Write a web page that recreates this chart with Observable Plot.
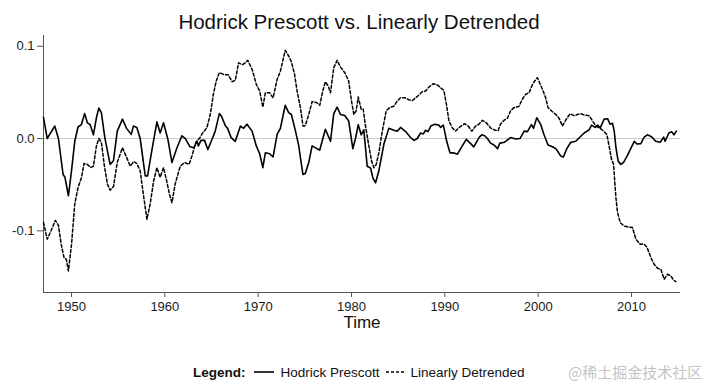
<!DOCTYPE html>
<html>
<head>
<meta charset="utf-8">
<script src="https://cdn.jsdelivr.net/npm/d3@7"></script>
<script src="https://cdn.jsdelivr.net/npm/@observablehq/plot@0.6"></script>
<style>
  body { margin: 0; background: #fff; font-family: "Liberation Sans", Arial, sans-serif; }
  #wrap { position: relative; width: 708px; height: 386px; overflow: hidden; background: #fff; }
  #title { position: absolute; z-index: 2; left: 0; top: 9px; width: 718px; text-align: center; font-size: 20.5px; line-height: 26px; color: #111; }
  #chart { position: absolute; z-index: 1; left: 0; top: 30px; }
  #legend { position: absolute; left: 193px; top: 362px; height: 20px; display: flex; align-items: center; font-size: 13.5px; color: #111; white-space: nowrap; }
  #legend b { margin-right: 8px; }
  #legend svg { margin-right: 7px; }
  #legend span { margin-right: 6px; }
  #wm { position: absolute; left: 568px; top: 362px; line-height: 20px; font-size: 15px; color: #c4c4c4; font-family: "Noto Sans CJK SC", sans-serif; white-space: nowrap; }
</style>
</head>
<body>
<div id="wrap">
  <div id="title">Hodrick Prescott vs. Linearly Detrended</div>
  <div id="chart"></div>
  <div id="legend">
    <b>Legend:</b>
    <svg width="20" height="6"><line x1="0" y1="3" x2="20" y2="3" stroke="#000" stroke-width="1.6"/></svg>
    <span>Hodrick Prescott</span>
    <svg width="18" height="6"><line x1="0" y1="3" x2="18" y2="3" stroke="#000" stroke-width="1.6" stroke-dasharray="3,2"/></svg>
    <span>Linearly Detrended</span>
  </div>
  <div id="wm">@稀土掘金技术社区</div>
</div>
<script>
const xTicks = [1950, 1960, 1970, 1980, 1990, 2000, 2010];
const yTicks = [-0.1, 0.0, 0.1];
const xDomain = [1947, 2015.25];
const yDomain = [-0.1668, 0.1116];

const hpYears = [1947.0,1947.4,1948.2,1948.6,1949.1,1949.3,1949.67,1950.0,1950.35,1950.7,1951.06,1951.4,1951.7,1952.0,1952.35,1952.67,1952.93,1953.2,1953.57,1954.14,1954.5,1954.9,1955.46,1955.9,1956.4,1956.64,1957.0,1957.36,1957.9,1958.15,1958.6,1959.15,1959.5,1959.86,1960.33,1960.76,1961.3,1961.83,1962.2,1962.7,1963.1,1963.44,1963.6,1963.87,1964.26,1964.6,1965.05,1965.4,1965.84,1966.05,1966.5,1966.73,1967.1,1967.55,1968.1,1968.44,1968.8,1969.35,1969.8,1970.16,1970.5,1970.77,1971.23,1971.6,1972.03,1972.38,1972.9,1973.27,1973.56,1974.0,1974.35,1974.53,1974.8,1975.05,1975.42,1975.78,1976.3,1976.6,1977.2,1977.75,1978.1,1978.46,1978.82,1979.28,1979.7,1980.14,1980.43,1980.72,1981.04,1981.32,1981.68,1982.04,1982.29,1982.58,1982.93,1983.47,1984.0,1984.54,1984.9,1985.26,1985.8,1986.33,1986.7,1987.05,1987.4,1987.7,1987.94,1988.2,1988.5,1988.9,1989.37,1989.55,1989.84,1990.2,1990.55,1990.9,1991.35,1991.87,1992.3,1992.77,1993.1,1993.66,1993.95,1994.27,1994.56,1994.9,1995.27,1995.65,1995.9,1996.4,1997.04,1997.6,1998.05,1998.5,1998.85,1999.28,1999.5,1999.85,2000.28,2000.63,2001.06,2001.53,2001.9,2002.42,2002.7,2003.07,2003.5,2004.03,2004.57,2004.93,2005.47,2005.72,2006.1,2006.37,2006.65,2007.07,2007.44,2007.7,2007.97,2008.15,2008.33,2008.57,2008.86,2009.14,2009.58,2009.94,2010.3,2010.6,2011.0,2011.36,2011.7,2012.15,2012.6,2013.08,2013.44,2013.6,2014.0,2014.3,2014.55,2014.8];
const hpValues = [0.023,0.000,0.0135,0.000,-0.039,-0.042,-0.062,-0.035,-0.003,0.0125,0.015,0.027,0.017,0.015,0.004,0.0225,0.033,0.028,0.001,-0.028,-0.024,0.008,0.021,0.011,0.0045,0.0135,0.012,0.000,-0.0405,-0.0405,-0.0135,0.018,0.006,0.017,-0.001,-0.026,-0.010,0.003,0.000,-0.009,-0.010,-0.003,-0.008,-0.002,-0.002,-0.012,-0.001,0.008,0.027,0.0245,0.0135,0.011,0.001,-0.003,0.0135,0.011,0.0155,0.008,-0.008,-0.0165,-0.0315,-0.0155,-0.0165,-0.020,0.0045,0.011,0.036,0.028,0.026,0.008,-0.008,-0.021,-0.039,-0.038,-0.026,-0.008,-0.011,-0.0125,0.010,-0.003,0.027,0.034,0.026,0.025,0.019,-0.011,0.000,0.015,0.004,0.0095,-0.030,-0.032,-0.0425,-0.048,-0.035,-0.006,0.011,0.009,0.008,0.012,0.0075,0.001,-0.002,0.000,0.006,0.005,0.009,0.0075,0.0135,0.0155,0.0145,0.012,0.0145,-0.003,-0.0155,-0.0155,-0.017,-0.008,-0.001,-0.0055,-0.009,0.001,0.004,0.003,0.000,-0.005,-0.007,-0.011,-0.005,-0.004,0.001,-0.0005,0.000,0.008,0.0075,0.015,0.011,0.0225,0.015,0.004,-0.007,-0.009,-0.011,-0.019,-0.020,-0.011,-0.004,-0.003,0.0025,0.006,0.0095,0.0145,0.012,0.0145,0.0115,0.021,0.0215,0.0155,0.0165,0.008,-0.0095,-0.0245,-0.028,-0.026,-0.018,-0.0105,-0.003,-0.006,-0.0055,0.0015,0.004,0.002,-0.003,-0.004,0.0015,-0.003,0.006,0.0075,0.004,0.008];

const ldYears = [1947.0,1947.4,1947.8,1948.27,1948.6,1948.9,1949.2,1949.45,1949.67,1950.0,1950.35,1950.7,1951.06,1951.35,1951.7,1952.03,1952.35,1952.67,1952.93,1953.2,1953.5,1953.85,1954.14,1954.5,1954.9,1955.46,1955.8,1956.3,1956.64,1957.0,1957.36,1957.7,1958.08,1958.43,1958.8,1959.15,1959.5,1959.86,1960.2,1960.5,1960.76,1961.1,1961.65,1962.1,1962.6,1962.9,1963.33,1963.7,1964.05,1964.5,1964.87,1965.2,1965.5,1965.84,1966.37,1966.8,1967.2,1967.55,1967.9,1968.3,1968.63,1968.88,1969.35,1969.8,1970.16,1970.5,1970.77,1971.23,1971.6,1972.03,1972.38,1972.9,1973.27,1973.56,1973.9,1974.17,1974.53,1974.8,1975.05,1975.42,1975.78,1976.25,1976.6,1976.92,1977.2,1977.5,1977.75,1978.1,1978.46,1978.82,1979.28,1979.7,1980.0,1980.25,1980.5,1980.72,1981.04,1981.25,1981.5,1981.86,1982.15,1982.4,1982.65,1982.93,1983.3,1983.72,1984.08,1984.54,1984.9,1985.26,1985.72,1986.15,1986.5,1987.1,1987.58,1987.94,1988.3,1988.77,1989.2,1989.55,1989.9,1990.2,1990.44,1990.8,1991.16,1991.5,1992.1,1992.5,1992.9,1993.3,1993.66,1994.02,1994.45,1994.95,1995.4,1995.7,1995.95,1996.37,1996.7,1997.06,1997.4,1997.95,1998.3,1998.67,1999.03,1999.4,1999.63,1999.92,2000.2,2000.46,2000.8,2001.06,2001.43,2001.9,2002.24,2002.6,2003.07,2003.42,2003.85,2004.2,2004.57,2004.93,2005.47,2005.83,2006.18,2006.65,2007.0,2007.36,2007.6,2007.86,2008.08,2008.2,2008.33,2008.5,2008.8,2009.22,2009.76,2010.1,2010.47,2010.93,2011.3,2011.65,2012.08,2012.43,2012.8,2013.15,2013.5,2013.87,2014.23,2014.52,2014.76];
const ldValues = [-0.091,-0.109,-0.100,-0.0887,-0.094,-0.115,-0.129,-0.131,-0.1435,-0.115,-0.071,-0.053,-0.0425,-0.027,-0.028,-0.0315,-0.030,-0.008,0.000,-0.004,-0.028,-0.0495,-0.056,-0.052,-0.026,-0.010,-0.018,-0.030,-0.025,-0.027,-0.035,-0.0605,-0.0875,-0.071,-0.046,-0.0315,-0.042,-0.0315,-0.046,-0.0605,-0.0695,-0.0495,-0.030,-0.026,-0.028,-0.019,-0.004,0.000,0.006,0.0115,0.026,0.048,0.062,0.0715,0.069,0.069,0.0615,0.063,0.082,0.080,0.082,0.0847,0.075,0.0587,0.0515,0.034,0.0496,0.0496,0.044,0.064,0.073,0.0955,0.0894,0.083,0.0695,0.0515,0.0334,0.0135,0.014,0.026,0.040,0.039,0.036,0.0515,0.0615,0.057,0.0496,0.0767,0.0847,0.0775,0.0713,0.0623,0.0406,0.026,0.030,0.045,0.0316,0.032,0.0135,-0.008,-0.0244,-0.0316,-0.028,-0.0154,0.008,0.030,0.0334,0.035,0.0406,0.0442,0.0442,0.042,0.041,0.046,0.0507,0.0515,0.0558,0.0594,0.058,0.055,0.052,0.0352,0.019,0.0117,0.0081,0.0117,0.016,0.0135,0.008,0.0135,0.0155,0.0197,0.017,0.011,0.009,0.0085,0.0154,0.020,0.0219,0.0305,0.0334,0.035,0.0424,0.048,0.0496,0.0587,0.0623,0.0659,0.0594,0.0533,0.0442,0.0334,0.0298,0.026,0.0219,0.0135,0.0219,0.0269,0.0247,0.026,0.0269,0.0255,0.0247,0.019,0.0135,0.011,0.0081,0.0045,-0.008,-0.0226,-0.028,-0.046,-0.064,-0.080,-0.0912,-0.0948,-0.0959,-0.0965,-0.109,-0.1146,-0.114,-0.1176,-0.129,-0.1363,-0.1406,-0.1417,-0.1525,-0.147,-0.1489,-0.1536,-0.155];

const hp = hpYears.map((t, i) => ({t, v: hpValues[i]}));
const ld = ldYears.map((t, i) => ({t, v: ldValues[i]}));

const chart = Plot.plot({
  width: 708,
  height: 330,
  marginLeft: 43,
  marginRight: 28,
  marginTop: 5,
  marginBottom: 68,
  style: {fontFamily: "'Liberation Sans', Arial, sans-serif", fontSize: "13px", color: "#1a1a1a", background: "transparent", overflow: "visible"},
  x: {domain: xDomain},
  y: {domain: yDomain},
  marks: [
    Plot.ruleY([0], {stroke: "#c8c8c8", strokeWidth: 1.2}),
    Plot.axisX({ticks: xTicks, tickFormat: d => String(d), tickSize: 5, tickPadding: 4, label: null, stroke: "#555", fontSize: 13}),
    Plot.axisY({ticks: yTicks, tickFormat: d => d.toFixed(1), tickSize: 6, tickPadding: 3, label: null, stroke: "#555", fontSize: 13}),
    Plot.ruleX([xDomain[0]], {stroke: "#555", strokeWidth: 1}),
    Plot.ruleY([yDomain[0]], {stroke: "#555", strokeWidth: 1}),
    Plot.line(ld, {x: "t", y: "v", stroke: "#000", strokeWidth: 1.5, strokeDasharray: "3,2.2"}),
    Plot.line(hp, {x: "t", y: "v", stroke: "#000", strokeWidth: 1.6}),
    Plot.text(["Time"], {frameAnchor: "bottom", dy: 35, fontSize: 17, fill: "#111"})
  ]
});
document.getElementById("chart").appendChild(chart);
</script>
</body>
</html>
